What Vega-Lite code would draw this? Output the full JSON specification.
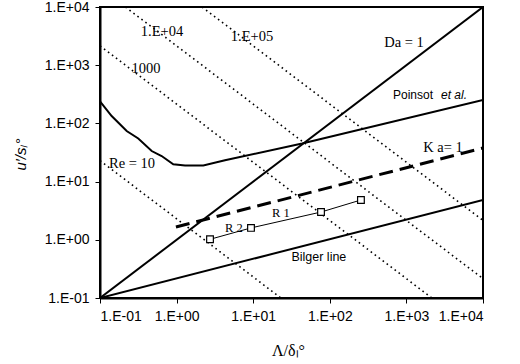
{
  "$schema": "https://vega.github.io/schema/vega-lite/v6.json",
  "width": 383,
  "height": 291,
  "autosize": {"type": "none"},
  "padding": {"left": 100, "top": 7, "right": 37, "bottom": 66},
  "background": "white",
  "config": {
    "view": {"stroke": "black", "strokeWidth": 2}
  },
  "datasets": {
    "lines": [
      {"series": "Re10", "x": 0.1, "y": 23},
      {"series": "Re10", "x": 23, "y": 0.1},
      {"series": "Re1000", "x": 0.1, "y": 2150},
      {"series": "Re1000", "x": 2150, "y": 0.1},
      {"series": "Re1e4", "x": 0.215, "y": 10000},
      {"series": "Re1e4", "x": 10000, "y": 0.215},
      {"series": "Re1e5", "x": 2.15, "y": 10000},
      {"series": "Re1e5", "x": 10000, "y": 2.15},
      {"series": "Da", "x": 0.1, "y": 0.1},
      {"series": "Da", "x": 10000, "y": 10000},
      {"series": "Bilger", "x": 0.1, "y": 0.1},
      {"series": "Bilger", "x": 10000, "y": 4.83},
      {"series": "Poinsot", "x": 0.1, "y": 240},
      {"series": "Poinsot", "x": 0.142, "y": 134},
      {"series": "Poinsot", "x": 0.223, "y": 74},
      {"series": "Poinsot", "x": 0.316, "y": 55},
      {"series": "Poinsot", "x": 0.473, "y": 33.5},
      {"series": "Poinsot", "x": 0.638, "y": 27.5},
      {"series": "Poinsot", "x": 0.905, "y": 19.8},
      {"series": "Poinsot", "x": 1.29, "y": 19},
      {"series": "Poinsot", "x": 2.23, "y": 19},
      {"series": "Poinsot", "x": 4.28, "y": 23.3},
      {"series": "Poinsot", "x": 43.5, "y": 45},
      {"series": "Poinsot", "x": 10000, "y": 252},
      {"series": "Ka", "x": 0.98, "y": 1.66},
      {"series": "Ka", "x": 10000, "y": 37.8},
      {"series": "R", "x": 2.73, "y": 1.02},
      {"series": "R", "x": 9.36, "y": 1.6},
      {"series": "R", "x": 76.8, "y": 3.0},
      {"series": "R", "x": 255, "y": 4.83}
    ],
    "serifLabels": [
      {"label": "Da = 1", "x": 930, "y": 2405},
      {"label": "K a= 1", "x": 3000, "y": 37.8},
      {"label": "1.E+04", "x": 0.645, "y": 3716},
      {"label": "1.E+05", "x": 9.64, "y": 3055},
      {"label": "1000", "x": 0.398, "y": 861},
      {"label": "Re = 10", "x": 0.262, "y": 20}
    ],
    "smallSerifLabels": [
      {"label": "R 1", "x": 23, "y": 2.89},
      {"label": "R 2", "x": 5.6, "y": 1.6}
    ],
    "sansLabels": [
      {"label": "Bilger line", "x": 72, "y": 0.51}
    ],
    "leftLabels": [
      {"label": "Poinsot", "x": 668, "y": 307}
    ],
    "italicLabels": [
      {"label": "et al.", "x": 2830, "y": 307}
    ]
  },
  "encoding": {
    "x": {
      "field": "x",
      "type": "quantitative",
      "scale": {"type": "log", "domain": [0.1, 10000], "nice": false},
      "axis": {
        "values": [0.1, 1, 10, 100, 1000, 10000],
        "labelExpr": "datum.value < 1 ? '1.E-01' : '1.E+0' + round(log(datum.value)/LN10)",
        "grid": false,
        "domainColor": "black",
        "domainWidth": 2,
        "tickColor": "black",
        "tickWidth": 1,
        "tickSize": 5,
        "labelFont": "Liberation Sans",
        "labelFontSize": 14,
        "labelColor": "black",
        "labelPadding": 6,
        "title": "Λ/δₗ°",
        "titleColor": "black",
        "titleFont": "Liberation Serif",
        "titleFontSize": 16,
        "titleFontWeight": "normal",
        "titleX": 188,
        "titleY": 52,
        "titleAlign": "center",
        "titleBaseline": "middle"
      }
    },
    "y": {
      "field": "y",
      "type": "quantitative",
      "scale": {"type": "log", "domain": [0.1, 10000], "nice": false},
      "axis": {
        "values": [0.1, 1, 10, 100, 1000, 10000],
        "labelExpr": "datum.value < 1 ? '1.E-01' : '1.E+0' + round(log(datum.value)/LN10)",
        "grid": false,
        "domainColor": "black",
        "domainWidth": 2,
        "tickColor": "black",
        "tickWidth": 1,
        "tickSize": 5,
        "labelFont": "Liberation Sans",
        "labelFontSize": 14,
        "labelColor": "black",
        "labelPadding": 6,
        "title": "u′/sₗ°",
        "titleColor": "black",
        "titleFont": "Liberation Sans",
        "titleFontStyle": "italic",
        "titleFontSize": 15,
        "titleFontWeight": "normal",
        "titleAngle": -90,
        "titleX": -80,
        "titleY": 147,
        "titleAlign": "center",
        "titleBaseline": "middle"
      }
    }
  },
  "layer": [
    {
      "data": {"name": "lines"},
      "transform": [{"filter": "indexof(['Re10','Re1000','Re1e4','Re1e5'], datum.series) >= 0"}],
      "mark": {"type": "line", "color": "black", "strokeWidth": 1.6, "strokeDash": [1.6, 3.4], "clip": true},
      "encoding": {"detail": {"field": "series"}}
    },
    {
      "data": {"name": "lines"},
      "transform": [{"filter": "indexof(['Da','Bilger','Poinsot'], datum.series) >= 0"}],
      "mark": {"type": "line", "color": "black", "strokeWidth": 2, "clip": true},
      "encoding": {"detail": {"field": "series"}}
    },
    {
      "data": {"name": "lines"},
      "transform": [{"filter": "datum.series === 'Ka'"}],
      "mark": {"type": "line", "color": "black", "strokeWidth": 3, "strokeDash": [14, 7]},
      "encoding": {}
    },
    {
      "data": {"name": "lines"},
      "transform": [{"filter": "datum.series === 'R'"}],
      "mark": {"type": "line", "color": "black", "strokeWidth": 1},
      "encoding": {}
    },
    {
      "data": {"name": "lines"},
      "transform": [{"filter": "datum.series === 'R'"}],
      "mark": {"type": "point", "shape": "square", "filled": true, "fill": "white", "stroke": "black", "strokeWidth": 1.2, "size": 45, "opacity": 1},
      "encoding": {}
    },
    {
      "data": {"name": "serifLabels"},
      "mark": {"type": "text", "font": "Liberation Serif", "fontSize": 14.5, "color": "black", "align": "center", "baseline": "middle"},
      "encoding": {"text": {"field": "label"}}
    },
    {
      "data": {"name": "smallSerifLabels"},
      "mark": {"type": "text", "font": "Liberation Serif", "fontSize": 12.5, "color": "black", "align": "center", "baseline": "middle"},
      "encoding": {"text": {"field": "label"}}
    },
    {
      "data": {"name": "sansLabels"},
      "mark": {"type": "text", "font": "Liberation Sans", "fontSize": 12.5, "color": "black", "align": "center", "baseline": "middle"},
      "encoding": {"text": {"field": "label"}}
    },
    {
      "data": {"name": "leftLabels"},
      "mark": {"type": "text", "font": "Liberation Sans", "fontSize": 12, "color": "black", "align": "left", "baseline": "middle"},
      "encoding": {"text": {"field": "label"}}
    },
    {
      "data": {"name": "italicLabels"},
      "mark": {"type": "text", "font": "Liberation Sans", "fontStyle": "italic", "fontSize": 12, "color": "black", "align": "left", "baseline": "middle"},
      "encoding": {"text": {"field": "label"}}
    }
  ]
}
